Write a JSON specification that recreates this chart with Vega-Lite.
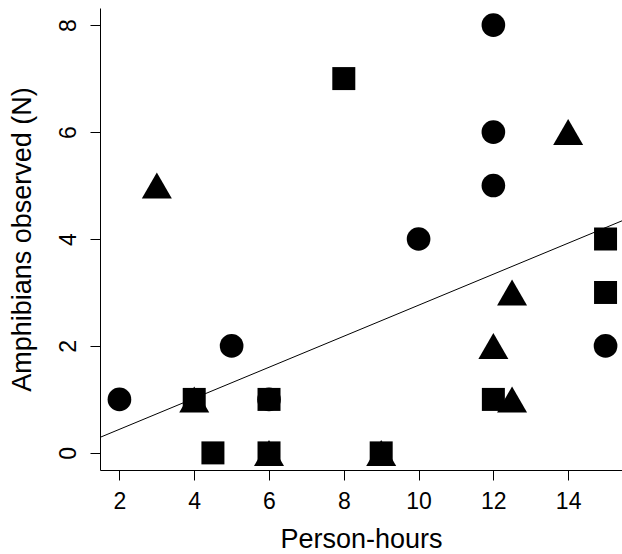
{
  "$schema": "https://vega.github.io/schema/vega-lite/v6.json",
  "autosize": "none",
  "width": 522,
  "height": 462,
  "padding": {"left": 100, "top": 8, "right": 0, "bottom": 84},
  "background": "white",
  "config": {
    "view": {"stroke": null},
    "font": "Liberation Sans",
    "axis": {
      "grid": false,
      "domainColor": "black",
      "tickColor": "black",
      "labelColor": "black",
      "titleColor": "black",
      "titleFontWeight": "normal",
      "labelFont": "Liberation Sans",
      "titleFont": "Liberation Sans",
      "tickSize": 10,
      "labelFontSize": 23,
      "titleFontSize": 27
    }
  },
  "datasets": {
    "points": [
      {"hours": 2, "n": 1, "shape": "circle"},
      {"hours": 5, "n": 2, "shape": "circle"},
      {"hours": 10, "n": 4, "shape": "circle"},
      {"hours": 12, "n": 8, "shape": "circle"},
      {"hours": 12, "n": 6, "shape": "circle"},
      {"hours": 12, "n": 5, "shape": "circle"},
      {"hours": 15, "n": 2, "shape": "circle"},
      {"hours": 6, "n": 1, "shape": "circle"},
      {"hours": 4, "n": 1, "shape": "square"},
      {"hours": 4.5, "n": 0, "shape": "square"},
      {"hours": 6, "n": 1, "shape": "square"},
      {"hours": 6, "n": 0, "shape": "square"},
      {"hours": 8, "n": 7, "shape": "square"},
      {"hours": 9, "n": 0, "shape": "square"},
      {"hours": 12, "n": 1, "shape": "square"},
      {"hours": 15, "n": 4, "shape": "square"},
      {"hours": 15, "n": 3, "shape": "square"},
      {"hours": 3, "n": 5, "shape": "triangle"},
      {"hours": 4, "n": 1, "shape": "triangle"},
      {"hours": 6, "n": 0, "shape": "triangle"},
      {"hours": 9, "n": 0, "shape": "triangle"},
      {"hours": 12, "n": 2, "shape": "triangle"},
      {"hours": 12.5, "n": 3, "shape": "triangle"},
      {"hours": 12.5, "n": 1, "shape": "triangle"},
      {"hours": 14, "n": 6, "shape": "triangle"}
    ],
    "fit": [{"x": 1.48, "y": 0.29}, {"x": 15.44, "y": 4.34}]
  },
  "layer": [
    {
      "data": {"name": "fit"},
      "mark": {"type": "line", "color": "black", "strokeWidth": 1, "clip": true},
      "encoding": {
        "x": {"field": "x", "type": "quantitative", "scale": {"domain": [1.48, 15.44], "nice": false, "zero": false},
          "axis": {"values": [2, 4, 6, 8, 10, 12, 14], "title": "Person-hours", "labelPadding": 10, "titlePadding": 13, "labelFlush": false}},
        "y": {"field": "y", "type": "quantitative", "scale": {"domain": [-0.32, 8.32], "nice": false, "zero": false},
          "axis": {"values": [0, 2, 4, 6, 8], "title": "Amphibians observed (N)", "labelAngle": 270, "labelAlign": "center", "labelBaseline": "bottom", "labelPadding": 10, "titlePadding": 21, "labelFlush": false}}
      }
    },
    {
      "mark": {"type": "rule", "color": "black", "strokeWidth": 1},
      "encoding": {"y": {"datum": 8.32}}
    },
    {
      "data": {"name": "points"},
      "transform": [{"filter": "datum.shape === 'circle'"}],
      "mark": {"type": "point", "shape": "circle", "size": 560, "filled": true, "color": "black", "opacity": 1, "strokeWidth": 0},
      "encoding": {
        "x": {"field": "hours", "type": "quantitative"},
        "y": {"field": "n", "type": "quantitative"}
      }
    },
    {
      "data": {"name": "points"},
      "transform": [{"filter": "datum.shape === 'square'"}],
      "mark": {"type": "point", "shape": "square", "size": 529, "filled": true, "color": "black", "opacity": 1, "strokeWidth": 0},
      "encoding": {
        "x": {"field": "hours", "type": "quantitative"},
        "y": {"field": "n", "type": "quantitative"}
      }
    },
    {
      "data": {"name": "points"},
      "transform": [{"filter": "datum.shape === 'triangle'"}],
      "mark": {"type": "point", "shape": "triangle-up", "size": 900, "filled": true, "color": "black", "opacity": 1, "strokeWidth": 0},
      "encoding": {
        "x": {"field": "hours", "type": "quantitative"},
        "y": {"field": "n", "type": "quantitative"}
      }
    }
  ]
}
